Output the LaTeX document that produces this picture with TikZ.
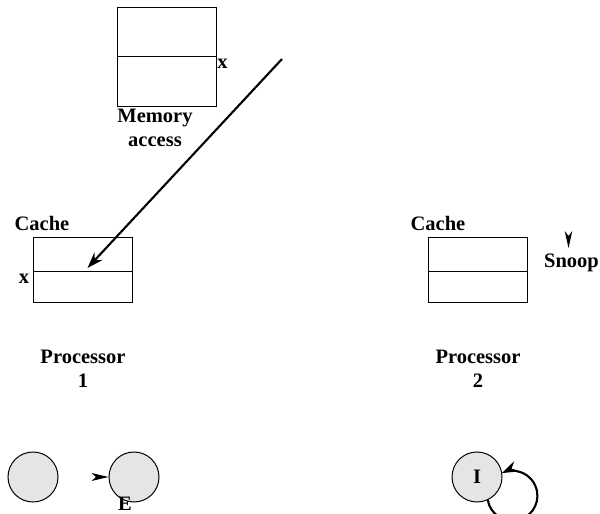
\documentclass[tikz,border=0pt]{standalone}
\usepackage{fontspec}
\setmainfont{Liberation Serif}
\usetikzlibrary{arrows.meta}
\begin{document}
\begin{tikzpicture}[x=1pt,y=1pt,
  lbl/.style={font=\fontsize{20.5}{24}\selectfont\bfseries, inner sep=0pt, align=center},
  membox/.style={draw=black, line width=0.9pt, minimum width=99pt, minimum height=99pt, inner sep=0pt},
  cachebox/.style={draw=black, line width=0.9pt, minimum width=99pt, minimum height=65pt, inner sep=0pt},
  state/.style={circle, draw=black, line width=1pt, fill=black!10, minimum size=50pt, inner sep=0pt, font=\fontsize{20.5}{24}\selectfont\bfseries},
  heavy/.style={line width=2.1pt, -{Stealth[length=16pt,width=11pt]}},
  head/.style={fill=black}
]
\useasboundingbox (0,0) rectangle (600,514);

% memory
\node[membox] (mem) at (166.5,457.5) {};
\draw[line width=0.9pt] (mem.west) -- (mem.east);
\node[lbl] (memx) at (222.5,450) {x};
\node[lbl, anchor=north] (memlbl) at (155,405) {Memory\\access};

% cache 1
\node[cachebox] (c1) at (82.5,244.5) {};
\draw[line width=0.9pt] ([yshift=-1.5pt]c1.west) -- ([yshift=-1.5pt]c1.east);
\node[lbl] (c1lbl) at (42,291) {Cache};
\node[lbl] (c1x) at (24,235) {x};
\node[lbl, anchor=north] (p1) at (83,164) {Processor\\1};

% cache 2
\node[cachebox] (c2) at (477.5,244.5) {};
\draw[line width=0.9pt] ([yshift=-2pt]c2.west) -- ([yshift=-2pt]c2.east);
\node[lbl] (c2lbl) at (438,291) {Cache};
\node[lbl] (snoop) at (571.5,251) {Snoop};
\node[lbl, anchor=north] (p2) at (478,164) {Processor\\2};

% memory access arrow
\coordinate (mstart) at (282,455);
\coordinate (mtip) at (87.5,246);
\draw[heavy] (mstart) -- (mtip);

% snoop arrowhead
\coordinate (sn) at (568.5,266);
\fill[head] (sn) -- ++(-3.8,17) -- ++(3.8,-5) -- ++(3.8,5) -- cycle;

% states
\node[state] (s1) at (33,37) {};
\node[state] (s2) at (134,37) {};
\node[lbl] (elbl) at (125,10) {E};
\node[state] (si) at (477,37) {I};

% arrowhead into s2
\coordinate (etip) at (s2.west);
\fill[head] (etip) -- ++(-17,4) -- ++(4.5,-4) -- ++(-4.5,-4) -- cycle;

% loop on I
\draw[heavy] (si.-65) arc[start angle=190, end angle=475, radius=25];
\end{tikzpicture}
\end{document}
